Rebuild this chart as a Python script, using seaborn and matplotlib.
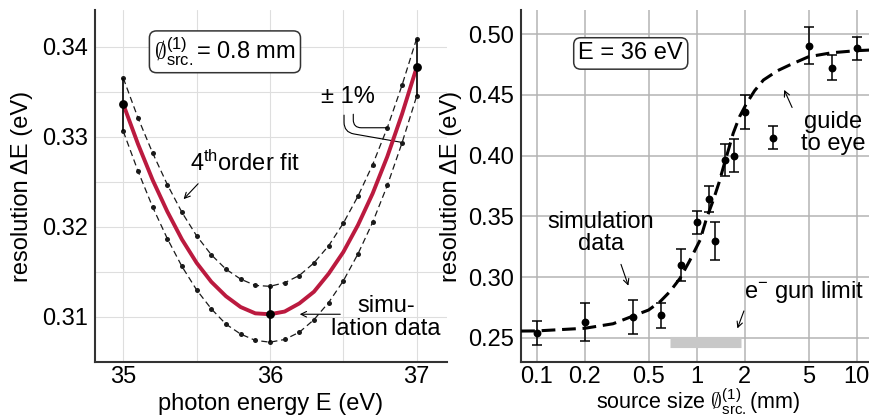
import numpy as np
import matplotlib
matplotlib.use("Agg")
import matplotlib.pyplot as plt
import seaborn as sns

# ---- left panel: energy scan at 0.8 mm source size
energy = [35.0, 35.1, 35.2, 35.3, 35.4, 35.5, 35.6, 35.7, 35.8, 35.9, 36.0,
          36.1, 36.2, 36.3, 36.4, 36.5, 36.6, 36.7, 36.8, 36.9, 37.0]
res_upper = [0.3365, 0.3321, 0.3282, 0.3247, 0.3216, 0.3190, 0.3169, 0.3153, 0.3142, 0.3135, 0.3134,
             0.3138, 0.3146, 0.3160, 0.3179, 0.3204, 0.3234, 0.3269, 0.3310, 0.3357, 0.3409]
res_fit = [0.3336, 0.3292, 0.3252, 0.3217, 0.3186, 0.3160, 0.3139, 0.3123, 0.3111, 0.3104, 0.3103,
           0.3106, 0.3115, 0.3128, 0.3148, 0.3172, 0.3202, 0.3237, 0.3278, 0.3325, 0.3377]
res_lower = [0.3306, 0.3262, 0.3222, 0.3187, 0.3156, 0.3130, 0.3109, 0.3092, 0.3081, 0.3074, 0.3072,
             0.3075, 0.3083, 0.3097, 0.3116, 0.3140, 0.3170, 0.3205, 0.3246, 0.3293, 0.3345]
sim_energy = [35.0, 36.0, 37.0]
sim_res = [0.3336, 0.3103, 0.3377]
sim_low = [0.3306, 0.3072, 0.3345]
sim_high = [0.3365, 0.3134, 0.3409]

# ---- right panel: source size scan at 36 eV
size_mm = [0.1, 0.2, 0.4, 0.6, 0.8, 1.0, 1.2, 1.3, 1.5, 1.7, 2.0, 3.0, 5.0, 7.0, 10.0]
res_size = [0.2540, 0.2627, 0.2668, 0.2685, 0.3099, 0.3451, 0.3643, 0.3297, 0.3962, 0.4000,
            0.4362, 0.4148, 0.4906, 0.4725, 0.4885]
res_size_err = [0.0099, 0.0155, 0.0140, 0.0105, 0.0128, 0.0097, 0.0110, 0.0154, 0.0130, 0.0136,
                0.0139, 0.0096, 0.0151, 0.0101, 0.0095]
guide_x = [0.08, 0.1, 0.2, 0.3, 0.4, 0.5, 0.59, 0.68, 0.786, 0.9, 1.05, 1.15, 1.27, 1.38, 1.47,
           1.58, 1.69, 1.85, 2.05, 2.3, 2.61, 3.2, 3.81, 5.0, 7.0, 10.0, 12.1]
guide_y = [0.2555, 0.2556, 0.2578, 0.2615, 0.2679, 0.2728, 0.2797, 0.2880, 0.2989, 0.3130, 0.3305,
           0.3480, 0.3635, 0.3780, 0.3909, 0.4050, 0.4184, 0.4320, 0.4431, 0.4535, 0.4623, 0.4700,
           0.4747, 0.4815, 0.4848, 0.4865, 0.4870]
gun_limit_x = [0.681, 1.89]
gun_limit_y = [0.2461, 0.2461]

sns.set_style("white")
plt.rcParams["font.family"] = ["Liberation Sans", "DejaVu Sans"]
plt.rcParams["mathtext.fontset"] = "custom"
plt.rcParams["mathtext.rm"] = "Liberation Sans"
plt.rcParams["mathtext.it"] = "Liberation Sans:italic"
plt.rcParams["text.color"] = "black"
plt.rcParams["axes.labelcolor"] = "black"

FS = 17
red = "#bb1a3f"
spine_c = "#333333"

fig = plt.figure(figsize=(8.7, 4.18), dpi=100)
ax1 = fig.add_axes([95 / 870, 56 / 418, 352 / 870, 352 / 418])
ax2 = fig.add_axes([521 / 870, 56 / 418, 349 / 870, 352 / 418])

# ---------- left panel
for vals in (res_upper, res_lower):
    sns.lineplot(x=energy, y=vals, ax=ax1, color="#1a1a1a", lw=0.9,
                 linestyle=(0, (5, 3)), marker="o", markersize=3.6,
                 markeredgewidth=0, zorder=3)
sns.lineplot(x=energy, y=res_fit, ax=ax1, color=red, lw=2.8, zorder=4)
ax1.vlines(sim_energy, sim_low, sim_high, color="black", lw=1.2, zorder=5)
sns.scatterplot(x=sim_energy, y=sim_res, ax=ax1, color="black", s=40,
                linewidth=0, zorder=6)

ax1.set_xlim(34.807, 37.207)
ax1.set_ylim(0.30608, 0.34407)
ax1.set_xticks([35, 36, 37])
ax1.set_xticks([35.5, 36.5], minor=True)
ax1.set_yticks([0.31, 0.32, 0.33, 0.34])
ax1.set_yticks([0.305, 0.315, 0.325, 0.335], minor=True)
ax1.set_yticklabels(["0.31", "0.32", "0.33", "0.34"])
ax1.grid(which="both", color="#dedede", lw=0.8)
ax1.tick_params(which="minor", length=0)

ax1.text(35.693, 0.33943, r"$\emptyset^{(1)}_{\mathrm{src.}}$= 0.8 mm", fontsize=FS,
         ha="center", va="center",
         bbox=dict(boxstyle="round,pad=0.2,rounding_size=0.3", fc="white", ec=spine_c, lw=1.1))
ax1.text(35.83, 0.32702, r"4$^{\mathrm{th}}$order fit", fontsize=FS, ha="center", va="center")
ax1.annotate("", xy=(35.398, 0.32285), xytext=(35.523, 0.32501),
             arrowprops=dict(arrowstyle="->", lw=0.8, color="black"))
ax1.text(36.79, 0.30998, "simu-\nlation data", fontsize=FS, ha="center", va="center",
         linespacing=1.05, clip_on=False)
ax1.annotate("", xy=(36.184, 0.3103), xytext=(36.498, 0.3103),
             arrowprops=dict(arrowstyle="->", lw=0.8, color="black"))
ax1.text(36.53, 0.3344, "± 1%", fontsize=FS, ha="center", va="center")
ax1.annotate("", xy=(36.8, 0.3310), xytext=(36.568, 0.3325),
             arrowprops=dict(arrowstyle="-", lw=0.8, color="black",
                             connectionstyle="angle,angleA=-90,angleB=180,rad=8",
                             shrinkA=0, shrinkB=0))
ax1.annotate("", xy=(36.89, 0.3294), xytext=(36.505, 0.3324),
             arrowprops=dict(arrowstyle="-", lw=0.8, color="black",
                             connectionstyle="angle,angleA=-90,angleB=170,rad=10",
                             shrinkA=0, shrinkB=0))

ax1.set_xlabel("photon energy E (eV)", fontsize=FS)
ax1.set_ylabel("resolution ΔE (eV)", fontsize=FS)
ax1.yaxis.set_label_coords(-0.176, 0.5)
ax1.xaxis.set_label_coords(0.5, -0.088)

# ---------- right panel
ax2.set_xscale("log")
ax2.plot(gun_limit_x, gun_limit_y, color="#c8c8c8", lw=8, solid_capstyle="butt", zorder=2)
sns.lineplot(x=guide_x, y=guide_y, ax=ax2, color="black", lw=2.2,
             linestyle=(0, (4.5, 2.2)), zorder=3)
ax2.errorbar(size_mm, res_size, yerr=res_size_err, fmt="none", ecolor="black",
             elinewidth=1.1, capsize=3.5, capthick=1.1, zorder=4)
sns.scatterplot(x=size_mm, y=res_size, ax=ax2, color="black", s=32, linewidth=0, zorder=5)

ax2.set_xlim(0.0798, 12.1)
ax2.set_ylim(0.23, 0.52)
ax2.set_xticks([0.1, 0.2, 0.5, 1, 2, 5, 10])
ax2.set_xticklabels(["0.1", "0.2", "0.5", "1", "2", "5", "10"])
ax2.xaxis.set_minor_locator(matplotlib.ticker.NullLocator())
ax2.set_yticks([0.25, 0.30, 0.35, 0.40, 0.45, 0.50])
ax2.set_yticklabels(["0.25", "0.30", "0.35", "0.40", "0.45", "0.50"])
ax2.grid(which="major", color="#b4b4b4", lw=1.1)

ax2.text(0.387, 0.4842, "E = 36 eV", fontsize=FS, ha="center", va="center",
         bbox=dict(boxstyle="round,pad=0.2,rounding_size=0.3", fc="white", ec=spine_c, lw=1.1))
ax2.text(7.14, 0.4187, "guide\nto eye", fontsize=FS, ha="center", va="center", linespacing=1.0)
ax2.annotate("", xy=(3.46, 0.4563), xytext=(4.01, 0.4376),
             arrowprops=dict(arrowstyle="->", lw=0.8, color="black"))
ax2.text(0.252, 0.3363, "simulation\ndata", fontsize=FS, ha="center", va="center", linespacing=1.0)
ax2.annotate("", xy=(0.379, 0.2907), xytext=(0.332, 0.3126),
             arrowprops=dict(arrowstyle="->", lw=0.8, color="black"))
ax2.text(4.69, 0.2879, r"e$^{-}$ gun limit", fontsize=FS, ha="center", va="center")
ax2.annotate("", xy=(1.77, 0.2555), xytext=(2.0, 0.2742),
             arrowprops=dict(arrowstyle="->", lw=0.8, color="black"))

ax2.set_xlabel(r"source size $\emptyset^{(1)}_{\mathrm{src.}}$(mm)", fontsize=15.5)
ax2.set_ylabel("resolution ΔE (eV)", fontsize=FS)
ax2.yaxis.set_label_coords(-0.169, 0.5)
ax2.xaxis.set_label_coords(0.508, -0.070)

for ax in (ax1, ax2):
    sns.despine(ax=ax)
    for s in ("left", "bottom"):
        ax.spines[s].set_color(spine_c)
        ax.spines[s].set_linewidth(1.5)
    ax.tick_params(which="major", direction="in", length=5, width=1.1, color=spine_c,
                   labelcolor="black", labelsize=FS, pad=5)
    ax.tick_params(axis="x", which="major", pad=3)
    ax.set_axisbelow(True)

fig.savefig("out.png", dpi=100)
